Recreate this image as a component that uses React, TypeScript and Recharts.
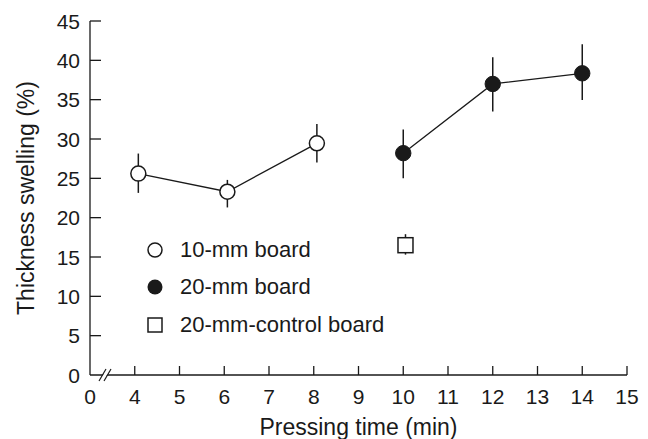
import React from 'react';
import {
  ScatterChart,
  Scatter,
  XAxis,
  YAxis,
  ErrorBar,
  Legend
} from 'recharts';

const FONT = '"Liberation Sans", Arial, Helvetica, sans-serif';
const INK = '#1a1a1a';

// 10-mm board
const board10Time = [4.08, 6.07, 8.07];
const board10Swelling = [25.6, 23.3, 29.45];
const board10Err = [[2.45, 2.55], [2.0, 1.5], [2.45, 2.45]];

// 20-mm board
const board20Time = [10, 12, 14];
const board20Swelling = [28.2, 37.0, 38.35];
const board20Err = [[3.2, 3.0], [3.5, 3.4], [3.4, 3.7]];

// 20-mm control board
const controlTime = [10.05];
const controlSwelling = [16.5];
const controlErr = [[1.2, 1.4]];

const timeTicks = [3, 4, 5, 6, 7, 8, 9, 10, 11, 12, 13, 14, 15];
const swellingTicks = [0, 5, 10, 15, 20, 25, 30, 35, 40, 45];

const SERIES_NAMES = ['10-mm board', '20-mm board', '20-mm-control board'];

const toRows = (xs: number[], ys: number[], errs: number[][]) =>
  xs.map((x, i) => ({ x, y: ys[i], err: errs[i] }));

const board10 = toRows(board10Time, board10Swelling, board10Err);
const board20 = toRows(board20Time, board20Swelling, board20Err);
const control = toRows(controlTime, controlSwelling, controlErr);

const OpenDot = (props: any) => (
  <circle cx={props.cx} cy={props.cy} r={7.5} fill="#fff" stroke={INK} strokeWidth={1.5} />
);
const FilledDot = (props: any) => (
  <circle cx={props.cx} cy={props.cy} r={7.7} fill={INK} stroke={INK} strokeWidth={1} />
);
const OpenSquare = (props: any) => (
  <rect x={props.cx - 7.5} y={props.cy - 7.5} width={15} height={15} fill="#fff" stroke={INK} strokeWidth={1.5} />
);

const TimeTick = (props: any) => {
  const { x, y, payload } = props;
  const v = payload.value;
  return (
    <g>
      {v === 3 ? (
        <g stroke={INK} strokeWidth={1.2}>
          <polygon points={`${x + 10},${y + 5} ${x + 16},${y - 5} ${x + 20},${y - 5} ${x + 14},${y + 5}`} fill="#fff" stroke="none" />
          <line x1={x + 9} y1={y + 6} x2={x + 16} y2={y - 6} />
          <line x1={x + 14} y1={y + 6} x2={x + 21} y2={y - 6} />
        </g>
      ) : (
        <line x1={x} x2={x} y1={y} y2={y - 9} stroke={INK} strokeWidth={1.3} />
      )}
      <text x={x} y={y + 29} textAnchor="middle" fontSize={21} fill={INK} fontFamily={FONT}>
        {v === 3 ? 0 : v}
      </text>
    </g>
  );
};

const SwellingTick = (props: any) => {
  const { x, y, payload } = props;
  const v = payload.value;
  return (
    <g>
      {v !== 0 && <line x1={x} x2={x + 11} y1={y} y2={y} stroke={INK} strokeWidth={1.3} />}
      <text x={x - 10} y={y} dy="0.36em" textAnchor="end" fontSize={21} fill={INK} fontFamily={FONT}>
        {v}
      </text>
    </g>
  );
};

const LegendMarker = ({ i }: { i: number }) => (
  <svg width={30} height={20} style={{ display: 'block' }}>
    {i === 0 && <circle cx={15} cy={10} r={7} fill="#fff" stroke={INK} strokeWidth={1.5} />}
    {i === 1 && <circle cx={15} cy={10} r={7.5} fill={INK} />}
    {i === 2 && <rect x={8} y={3} width={14} height={14} fill="#fff" stroke={INK} strokeWidth={1.5} />}
  </svg>
);

const LegendBox = () => (
  <div style={{ fontFamily: FONT, fontSize: 22, color: INK }}>
    {SERIES_NAMES.map((name, i) => (
      <div key={name} style={{ display: 'flex', alignItems: 'center', height: 37.5 }}>
        <LegendMarker i={i} />
        <span style={{ marginLeft: 10, whiteSpace: 'nowrap' }}>{name}</span>
      </div>
    ))}
  </div>
);

export default function App() {
  return (
    <div style={{ position: 'absolute', left: 0, top: 0, width: 648, height: 439, background: '#fff' }}>
      <ScatterChart width={648} height={439} margin={{ top: 21, right: 21, bottom: 0, left: 0 }}>
        <XAxis
          type="number"
          dataKey="x"
          domain={[3, 15]}
          ticks={timeTicks}
          interval={0}
          height={64}
          tickLine={false}
          tickSize={0}
          tickMargin={0}
          tick={<TimeTick />}
          axisLine={{ stroke: INK, strokeWidth: 1.3 }}
          label={{ value: 'Pressing time (min)', position: 'insideBottom', offset: 4, fontSize: 23, fill: INK, fontFamily: FONT }}
        />
        <YAxis
          type="number"
          dataKey="y"
          domain={[0, 45]}
          ticks={swellingTicks}
          interval={0}
          width={90}
          tickLine={false}
          tickSize={0}
          tickMargin={0}
          tick={<SwellingTick />}
          axisLine={{ stroke: INK, strokeWidth: 1.3 }}
          label={{
            value: 'Thickness swelling (%)',
            angle: -90,
            position: 'insideLeft',
            offset: 26,
            fontSize: 23,
            fill: INK,
            fontFamily: FONT,
            style: { textAnchor: 'middle' }
          }}
        />
        <Legend
          layout="vertical"
          align="center"
          verticalAlign="middle"
          wrapperStyle={{ left: 140, top: 231, width: 320 }}
          content={<LegendBox />}
        />
        <Scatter
          name={SERIES_NAMES[0]}
          data={board10}
          line={{ stroke: INK, strokeWidth: 1.3 }}
          lineType="joint"
          shape={OpenDot}
          isAnimationActive={false}
        >
          <ErrorBar dataKey="err" direction="y" width={0} stroke={INK} strokeWidth={1.5} isAnimationActive={false} />
        </Scatter>
        <Scatter
          name={SERIES_NAMES[1]}
          data={board20}
          line={{ stroke: INK, strokeWidth: 1.3 }}
          lineType="joint"
          shape={FilledDot}
          isAnimationActive={false}
        >
          <ErrorBar dataKey="err" direction="y" width={0} stroke={INK} strokeWidth={1.5} isAnimationActive={false} />
        </Scatter>
        <Scatter
          name={SERIES_NAMES[2]}
          data={control}
          shape={OpenSquare}
          isAnimationActive={false}
        >
          <ErrorBar dataKey="err" direction="y" width={0} stroke={INK} strokeWidth={1.5} isAnimationActive={false} />
        </Scatter>
      </ScatterChart>
    </div>
  );
}
